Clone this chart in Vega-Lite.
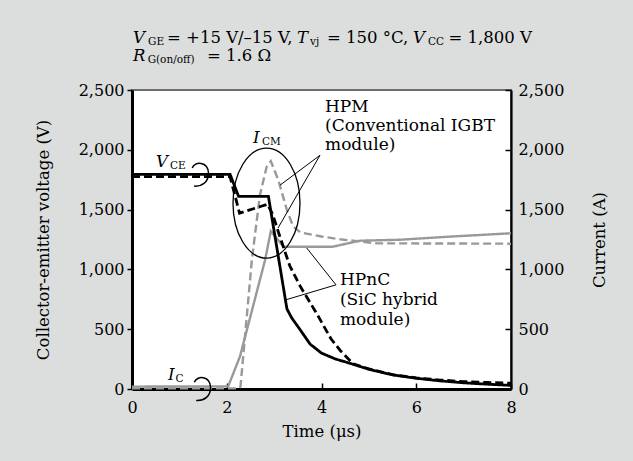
{
  "$schema": "https://vega.github.io/schema/vega-lite/v6.json",
  "width": 379,
  "height": 299,
  "autosize": {"type": "none"},
  "padding": {"left": 132, "top": 90, "right": 122, "bottom": 72},
  "background": "#dcdedd",
  "config": {
    "font": "DejaVu Serif",
    "view": {"fill": "white", "stroke": "#6e6e6e", "strokeWidth": 2},
    "axis": {
      "labelFont": "DejaVu Serif", "titleFont": "DejaVu Serif",
      "labelFontSize": 16, "titleFontSize": 16.5, "titleFontWeight": "normal",
      "labelColor": "black", "titleColor": "black",
      "domainColor": "black", "tickColor": "black", "grid": false,
      "labelFlush": false, "labelOverlap": false
    },
    "text": {"font": "DejaVu Serif", "color": "black"}
  },
  "datasets": {
    "vce": [
      {"t": 0, "v": 1795, "module": "HPnC"}, {"t": 2.07, "v": 1795, "module": "HPnC"}, {"t": 2.25, "v": 1610, "module": "HPnC"},
      {"t": 2.88, "v": 1610, "module": "HPnC"}, {"t": 2.95, "v": 1440, "module": "HPnC"}, {"t": 3.27, "v": 670, "module": "HPnC"},
      {"t": 3.37, "v": 595, "module": "HPnC"}, {"t": 3.55, "v": 495, "module": "HPnC"}, {"t": 3.76, "v": 375, "module": "HPnC"},
      {"t": 4.0, "v": 300, "module": "HPnC"}, {"t": 4.3, "v": 250, "module": "HPnC"}, {"t": 4.6, "v": 215, "module": "HPnC"},
      {"t": 5.0, "v": 165, "module": "HPnC"}, {"t": 5.5, "v": 118, "module": "HPnC"}, {"t": 6.0, "v": 90, "module": "HPnC"},
      {"t": 6.5, "v": 68, "module": "HPnC"}, {"t": 7.0, "v": 52, "module": "HPnC"}, {"t": 7.5, "v": 40, "module": "HPnC"},
      {"t": 8.0, "v": 30, "module": "HPnC"},
      {"t": 0, "v": 1775, "module": "HPM"}, {"t": 2.07, "v": 1775, "module": "HPM"}, {"t": 2.27, "v": 1470, "module": "HPM"},
      {"t": 2.86, "v": 1545, "module": "HPM"}, {"t": 2.97, "v": 1460, "module": "HPM"}, {"t": 3.1, "v": 1300, "module": "HPM"},
      {"t": 3.33, "v": 1030, "module": "HPM"}, {"t": 3.55, "v": 860, "module": "HPM"}, {"t": 3.9, "v": 630, "module": "HPM"},
      {"t": 4.2, "v": 420, "module": "HPM"}, {"t": 4.4, "v": 320, "module": "HPM"}, {"t": 4.67, "v": 210, "module": "HPM"},
      {"t": 5.0, "v": 168, "module": "HPM"}, {"t": 5.5, "v": 120, "module": "HPM"}, {"t": 6.0, "v": 93, "module": "HPM"},
      {"t": 6.5, "v": 75, "module": "HPM"}, {"t": 7.0, "v": 62, "module": "HPM"}, {"t": 7.5, "v": 55, "module": "HPM"},
      {"t": 8.0, "v": 48, "module": "HPM"}
    ],
    "ic": [
      {"t": 0, "i": 20, "module": "HPnC"}, {"t": 2.03, "i": 22, "module": "HPnC"}, {"t": 2.28, "i": 273, "module": "HPnC"},
      {"t": 2.81, "i": 1080, "module": "HPnC"}, {"t": 2.93, "i": 1320, "module": "HPnC"}, {"t": 3.2, "i": 1190, "module": "HPnC"},
      {"t": 4.24, "i": 1190, "module": "HPnC"}, {"t": 4.81, "i": 1240, "module": "HPnC"}, {"t": 5.66, "i": 1248, "module": "HPnC"},
      {"t": 6.71, "i": 1274, "module": "HPnC"}, {"t": 8, "i": 1302, "module": "HPnC"},
      {"t": 0, "i": 5, "module": "HPM"}, {"t": 2.26, "i": 5, "module": "HPM"}, {"t": 2.29, "i": 20, "module": "HPM"},
      {"t": 2.53, "i": 1080, "module": "HPM"}, {"t": 2.7, "i": 1620, "module": "HPM"}, {"t": 2.84, "i": 1855, "module": "HPM"},
      {"t": 2.93, "i": 1905, "module": "HPM"}, {"t": 3.09, "i": 1745, "module": "HPM"}, {"t": 3.27, "i": 1496, "module": "HPM"},
      {"t": 3.4, "i": 1360, "module": "HPM"}, {"t": 3.55, "i": 1310, "module": "HPM"}, {"t": 4.0, "i": 1275, "module": "HPM"},
      {"t": 4.39, "i": 1252, "module": "HPM"}, {"t": 5.17, "i": 1218, "module": "HPM"}, {"t": 8, "i": 1215, "module": "HPM"}
    ],
    "titleText": [
      {"t": 0.739, "v": 2896, "label": "= +15 V/–15 V,"},
      {"t": 4.116, "v": 2896, "label": "= 150 °C,"},
      {"t": 6.68, "v": 2896, "label": "= 1,800 V"},
      {"t": 1.583, "v": 2746, "label": "= 1.6 Ω"}
    ],
    "noteText": [
      {"t": 4.074, "v": 2312, "label": "HPM"},
      {"t": 4.074, "v": 2154, "label": "(Conventional IGBT"},
      {"t": 4.074, "v": 1996, "label": "module)"},
      {"t": 4.39, "v": 871, "label": "HPnC"},
      {"t": 4.39, "v": 704, "label": "(SiC hybrid"},
      {"t": 4.39, "v": 537, "label": "module)"}
    ],
    "italicText": [
      {"t": 0.02, "v": 2896, "label": "V"},
      {"t": 3.483, "v": 2896, "label": "T"},
      {"t": 5.931, "v": 2896, "label": "V"},
      {"t": 0.02, "v": 2746, "label": "R"},
      {"t": 2.554, "v": 2054, "label": "I"},
      {"t": 0.507, "v": 1857, "label": "V"},
      {"t": 0.76, "v": 79, "label": "I"}
    ],
    "subText": [
      {"t": 0.338, "v": 2879, "label": "GE"},
      {"t": 3.757, "v": 2879, "label": "vj"},
      {"t": 6.248, "v": 2879, "label": "CC"},
      {"t": 0.33, "v": 2729, "label": "G(on/off)"},
      {"t": 2.744, "v": 2037, "label": "CM"},
      {"t": 0.802, "v": 1842, "label": "CE"},
      {"t": 0.92, "v": 62, "label": "C"}
    ],
    "leaders": [
      {"t": 3.968, "v": 1954, "t2": 3.124, "v2": 1704},
      {"t": 3.968, "v": 1954, "t2": 3.082, "v2": 1346},
      {"t": 4.306, "v": 871, "t2": 3.688, "v2": 1179},
      {"t": 4.306, "v": 871, "t2": 3.25, "v2": 746}
    ],
    "ellipse": [{"t": 2.839, "v": 1554}],
    "brackets": [{"t": 1.456, "v": 1796}, {"t": 1.5, "v": 4}]
  },
  "layer": [
    {
      "layer": [
        {
          "data": {"name": "ic"},
          "mark": {"type": "line", "strokeWidth": 2.4, "color": "#999999"},
          "encoding": {
            "x": {"field": "t", "type": "quantitative", "scale": {"domain": [0, 8]}},
            "y": {"field": "i", "type": "quantitative", "scale": {"domain": [0, 2500]},
              "axis": {"orient": "right", "title": "Current (A)", "values": [0, 500, 1000, 1500, 2000, 2500], "format": ",d",
                "tickSize": -6, "tickWidth": 1.5, "domainWidth": 2.2, "labelPadding": 13, "titleAngle": 270, "titlePadding": 44, "labelBaseline": "middle"}},
            "strokeDash": {"field": "module", "type": "nominal", "scale": {"domain": ["HPnC", "HPM"], "range": [[1, 0], [8, 4]]}, "legend": null}
          }
        }
      ]
    },
    {
      "layer": [
        {
          "data": {"name": "vce"},
          "mark": {"type": "line", "strokeWidth": 2.8, "color": "black"},
          "encoding": {
            "x": {"field": "t", "type": "quantitative", "scale": {"domain": [0, 8]},
              "axis": {"title": "Time (μs)", "values": [0, 2, 4, 6, 8], "tickSize": -6, "tickWidth": 1.5, "domainWidth": 3, "labelPadding": 16, "titlePadding": 8}},
            "y": {"field": "v", "type": "quantitative", "scale": {"domain": [0, 2500]},
              "axis": {"title": "Collector-emitter voltage (V)", "values": [0, 500, 1000, 1500, 2000, 2500], "format": ",d",
                "tickSize": 5, "tickWidth": 1.5, "domainWidth": 3, "labelPadding": 3, "titlePadding": 27, "labelBaseline": "middle"}},
            "strokeDash": {"field": "module", "type": "nominal", "scale": {"domain": ["HPnC", "HPM"], "range": [[1, 0], [8, 4]]}, "legend": null}
          }
        },
        {
          "data": {"name": "leaders"},
          "mark": {"type": "rule", "color": "black", "strokeWidth": 1},
          "encoding": {
            "x": {"field": "t", "type": "quantitative", "scale": {"domain": [0, 8]}},
            "y": {"field": "v", "type": "quantitative", "scale": {"domain": [0, 2500]}},
            "x2": {"field": "t2"},
            "y2": {"field": "v2"}
          }
        },
        {
          "data": {"name": "ellipse"},
          "mark": {"type": "point", "shape": "M -0.609 0 A 0.609 1 0 1 0 0.609 0 A 0.609 1 0 1 0 -0.609 0 Z", "size": 12100, "filled": false, "stroke": "black", "strokeWidth": 1.3, "opacity": 1},
          "encoding": {
            "x": {"field": "t", "type": "quantitative", "scale": {"domain": [0, 8]}},
            "y": {"field": "v", "type": "quantitative", "scale": {"domain": [0, 2500]}}
          }
        },
        {
          "data": {"name": "brackets"},
          "mark": {"type": "point", "shape": "M -0.7 -0.5 C -0.5 -1.05 0.55 -1.05 0.6 -0.1 C 0.62 0.6 0.1 1.0 -0.55 0.95", "size": 625, "filled": false, "stroke": "black", "strokeWidth": 1.5, "opacity": 1},
          "encoding": {
            "x": {"field": "t", "type": "quantitative", "scale": {"domain": [0, 8]}},
            "y": {"field": "v", "type": "quantitative", "scale": {"domain": [0, 2500]}}
          }
        },
        {
          "data": {"name": "titleText"},
          "mark": {"type": "text", "align": "left", "baseline": "alphabetic", "fontSize": 16.5},
          "encoding": {
            "x": {"field": "t", "type": "quantitative", "scale": {"domain": [0, 8]}},
            "y": {"field": "v", "type": "quantitative", "scale": {"domain": [0, 2500]}},
            "text": {"field": "label"}
          }
        },
        {
          "data": {"name": "noteText"},
          "mark": {"type": "text", "align": "left", "baseline": "alphabetic", "fontSize": 17},
          "encoding": {
            "x": {"field": "t", "type": "quantitative", "scale": {"domain": [0, 8]}},
            "y": {"field": "v", "type": "quantitative", "scale": {"domain": [0, 2500]}},
            "text": {"field": "label"}
          }
        },
        {
          "data": {"name": "italicText"},
          "mark": {"type": "text", "align": "left", "baseline": "alphabetic", "fontSize": 16.5, "fontStyle": "italic"},
          "encoding": {
            "x": {"field": "t", "type": "quantitative", "scale": {"domain": [0, 8]}},
            "y": {"field": "v", "type": "quantitative", "scale": {"domain": [0, 2500]}},
            "text": {"field": "label"}
          }
        },
        {
          "data": {"name": "subText"},
          "mark": {"type": "text", "align": "left", "baseline": "alphabetic", "fontSize": 10.5},
          "encoding": {
            "x": {"field": "t", "type": "quantitative", "scale": {"domain": [0, 8]}},
            "y": {"field": "v", "type": "quantitative", "scale": {"domain": [0, 2500]}},
            "text": {"field": "label"}
          }
        }
      ]
    }
  ],
  "resolve": {"scale": {"y": "independent"}}
}
